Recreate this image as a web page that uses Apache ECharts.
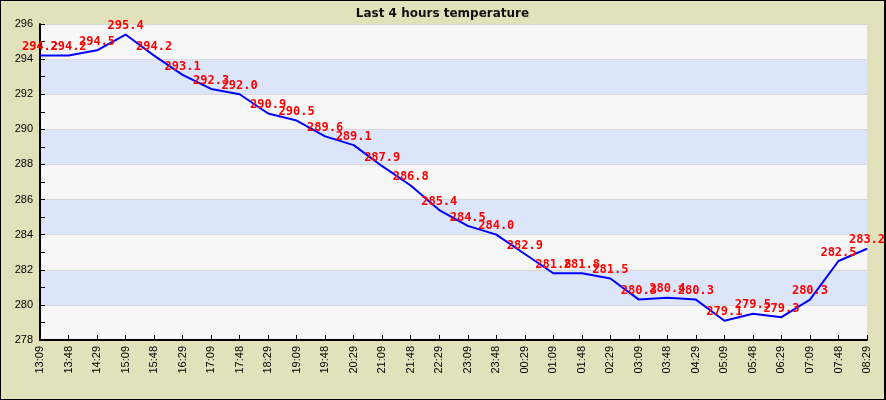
<!DOCTYPE html>
<html>
<head>
<meta charset="utf-8">
<script src="https://cdn.jsdelivr.net/npm/echarts@6/dist/echarts.min.js"></script>
<style>
  html, body { margin: 0; padding: 0; }
  #chart { width: 886px; height: 400px; box-sizing: border-box; border: 1px solid #000; border-right-width: 2px; background: #E3E0BC; }
</style>
</head>
<body>
<div id="chart"></div>
<script>
const titleText = 'Last 4 hours temperature';
const categories = ['13:09','13:48','14:29','15:09','15:48','16:29','17:09','17:48','18:29','19:09',
  '19:48','20:29','21:09','21:48','22:29','23:09','23:48','00:29','01:09','01:48',
  '02:29','03:09','03:48','04:29','05:09','05:48','06:29','07:09','07:48','08:29'];
const temperature = [294.2,294.2,294.5,295.4,294.2,293.1,292.3,292.0,290.9,290.5,
  289.6,289.1,287.9,286.8,285.4,284.5,284.0,282.9,281.8,281.8,
  281.5,280.3,280.4,280.3,279.1,279.5,279.3,280.3,282.5,283.2];
const yMin = 278, yMax = 296, yStep = 2;

const chart = echarts.init(document.getElementById('chart'), null, { renderer: 'canvas' });
chart.setOption({
  animation: false,
  backgroundColor: 'transparent',
  title: {
    text: titleText, left: 'center', top: 2,
    textStyle: { fontFamily: 'DejaVu Sans', fontWeight: 'bold', fontSize: 12, color: '#111' }
  },
  grid: { left: 39, right: 17, top: 23, bottom: 59, containLabel: false },
  xAxis: {
    type: 'category', data: categories, boundaryGap: false,
    axisLine: { lineStyle: { color: '#000', width: 2 } },
    axisTick: { inside: true, length: 5, lineStyle: { color: '#000' }, alignWithLabel: true },
    axisLabel: { rotate: 90, margin: 6, interval: 0, fontFamily: 'Liberation Sans', fontSize: 11, color: '#000' },
    splitLine: { show: false }
  },
  yAxis: {
    type: 'value', min: yMin, max: yMax, interval: yStep,
    axisLine: { show: true, lineStyle: { color: '#000', width: 2 } },
    axisTick: { show: true, inside: true, length: 5, lineStyle: { color: '#000' } },
    minorTick: { show: true, splitNumber: 2, length: 5, lineStyle: { color: '#000' } },
    axisLabel: { margin: 7, fontFamily: 'Liberation Sans', fontSize: 11, color: '#000' },
    splitLine: { show: true, lineStyle: { color: '#D8D8D8', width: 1 } },
    splitArea: { show: true, areaStyle: { color: ['#F7F7F7', '#DDE5FB'] } }
  },
  series: [{
    type: 'line', data: temperature,
    symbol: 'circle', symbolSize: 1, showSymbol: true,
    itemStyle: { color: '#0000FF' },
    lineStyle: { color: '#0000FF', width: 2 },
    label: {
      show: true, position: 'top', distance: 2,
      fontFamily: 'DejaVu Sans Mono', fontWeight: 'bold', fontSize: 12, color: '#FF0000',
      formatter: p => p.value.toFixed(1)
    }
  }]
});
</script>
</body>
</html>
